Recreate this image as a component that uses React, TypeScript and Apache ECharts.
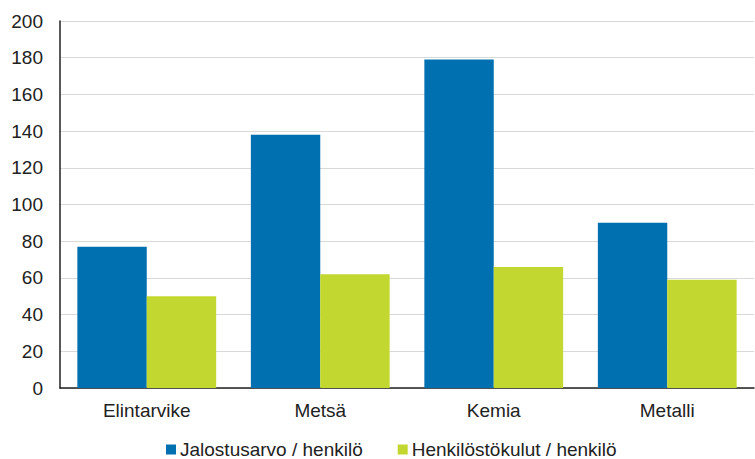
import React, { useEffect, useRef } from "react";
import * as echarts from "echarts";

const categories = ["Elintarvike", "Metsä", "Kemia", "Metalli"];
const seriesNames = ["Jalostusarvo / henkilö", "Henkilöstökulut / henkilö"];
const jalostusarvo = [77, 138, 179, 90];
const henkilostokulut = [50, 62, 66, 59];

export default function App() {
  const ref = useRef<HTMLDivElement>(null);
  useEffect(() => {
    if (!ref.current) return;
    const chart = echarts.init(ref.current, undefined, { renderer: "svg" });
    const font = "'Liberation Sans', Arial, sans-serif";
    chart.setOption({
      animation: false,
      color: ["#0070b0", "#c2d730"],
      textStyle: { fontFamily: font },
      grid: { left: 60, right: 1, top: 21, bottom: 71, containLabel: false },
      legend: {
        data: seriesNames,
        top: 440,
        left: 166,
        padding: 0,
        icon: "rect",
        itemWidth: 10,
        itemHeight: 10,
        itemGap: 35,
        textStyle: { fontSize: 19, lineHeight: 19, color: "#222", fontFamily: font, padding: [0, 0, 0, -1] },
      },
      xAxis: {
        type: "category",
        data: categories,
        axisLine: { lineStyle: { color: "#222", width: 1.5 } },
        axisTick: { show: false },
        axisLabel: { fontSize: 19, color: "#222", margin: 13, fontFamily: font },
      },
      yAxis: {
        type: "value",
        min: 0,
        max: 200,
        interval: 20,
        axisLine: { show: true, lineStyle: { color: "#222", width: 1.5 } },
        axisTick: { show: false },
        axisLabel: { fontSize: 19, color: "#222", margin: 17, fontFamily: font },
        splitLine: { lineStyle: { color: "#d9d9d9", width: 1 } },
      },
      series: [
        {
          name: seriesNames[0],
          type: "bar",
          data: jalostusarvo,
          barGap: "0%",
          barCategoryGap: "20%",
        },
        {
          name: seriesNames[1],
          type: "bar",
          data: henkilostokulut,
          barGap: "0%",
          barCategoryGap: "20%",
        },
      ],
    });
    return () => chart.dispose();
  }, []);
  return <div ref={ref} style={{ width: 755, height: 459, position: "absolute", left: 0, top: 0 }} />;
}
